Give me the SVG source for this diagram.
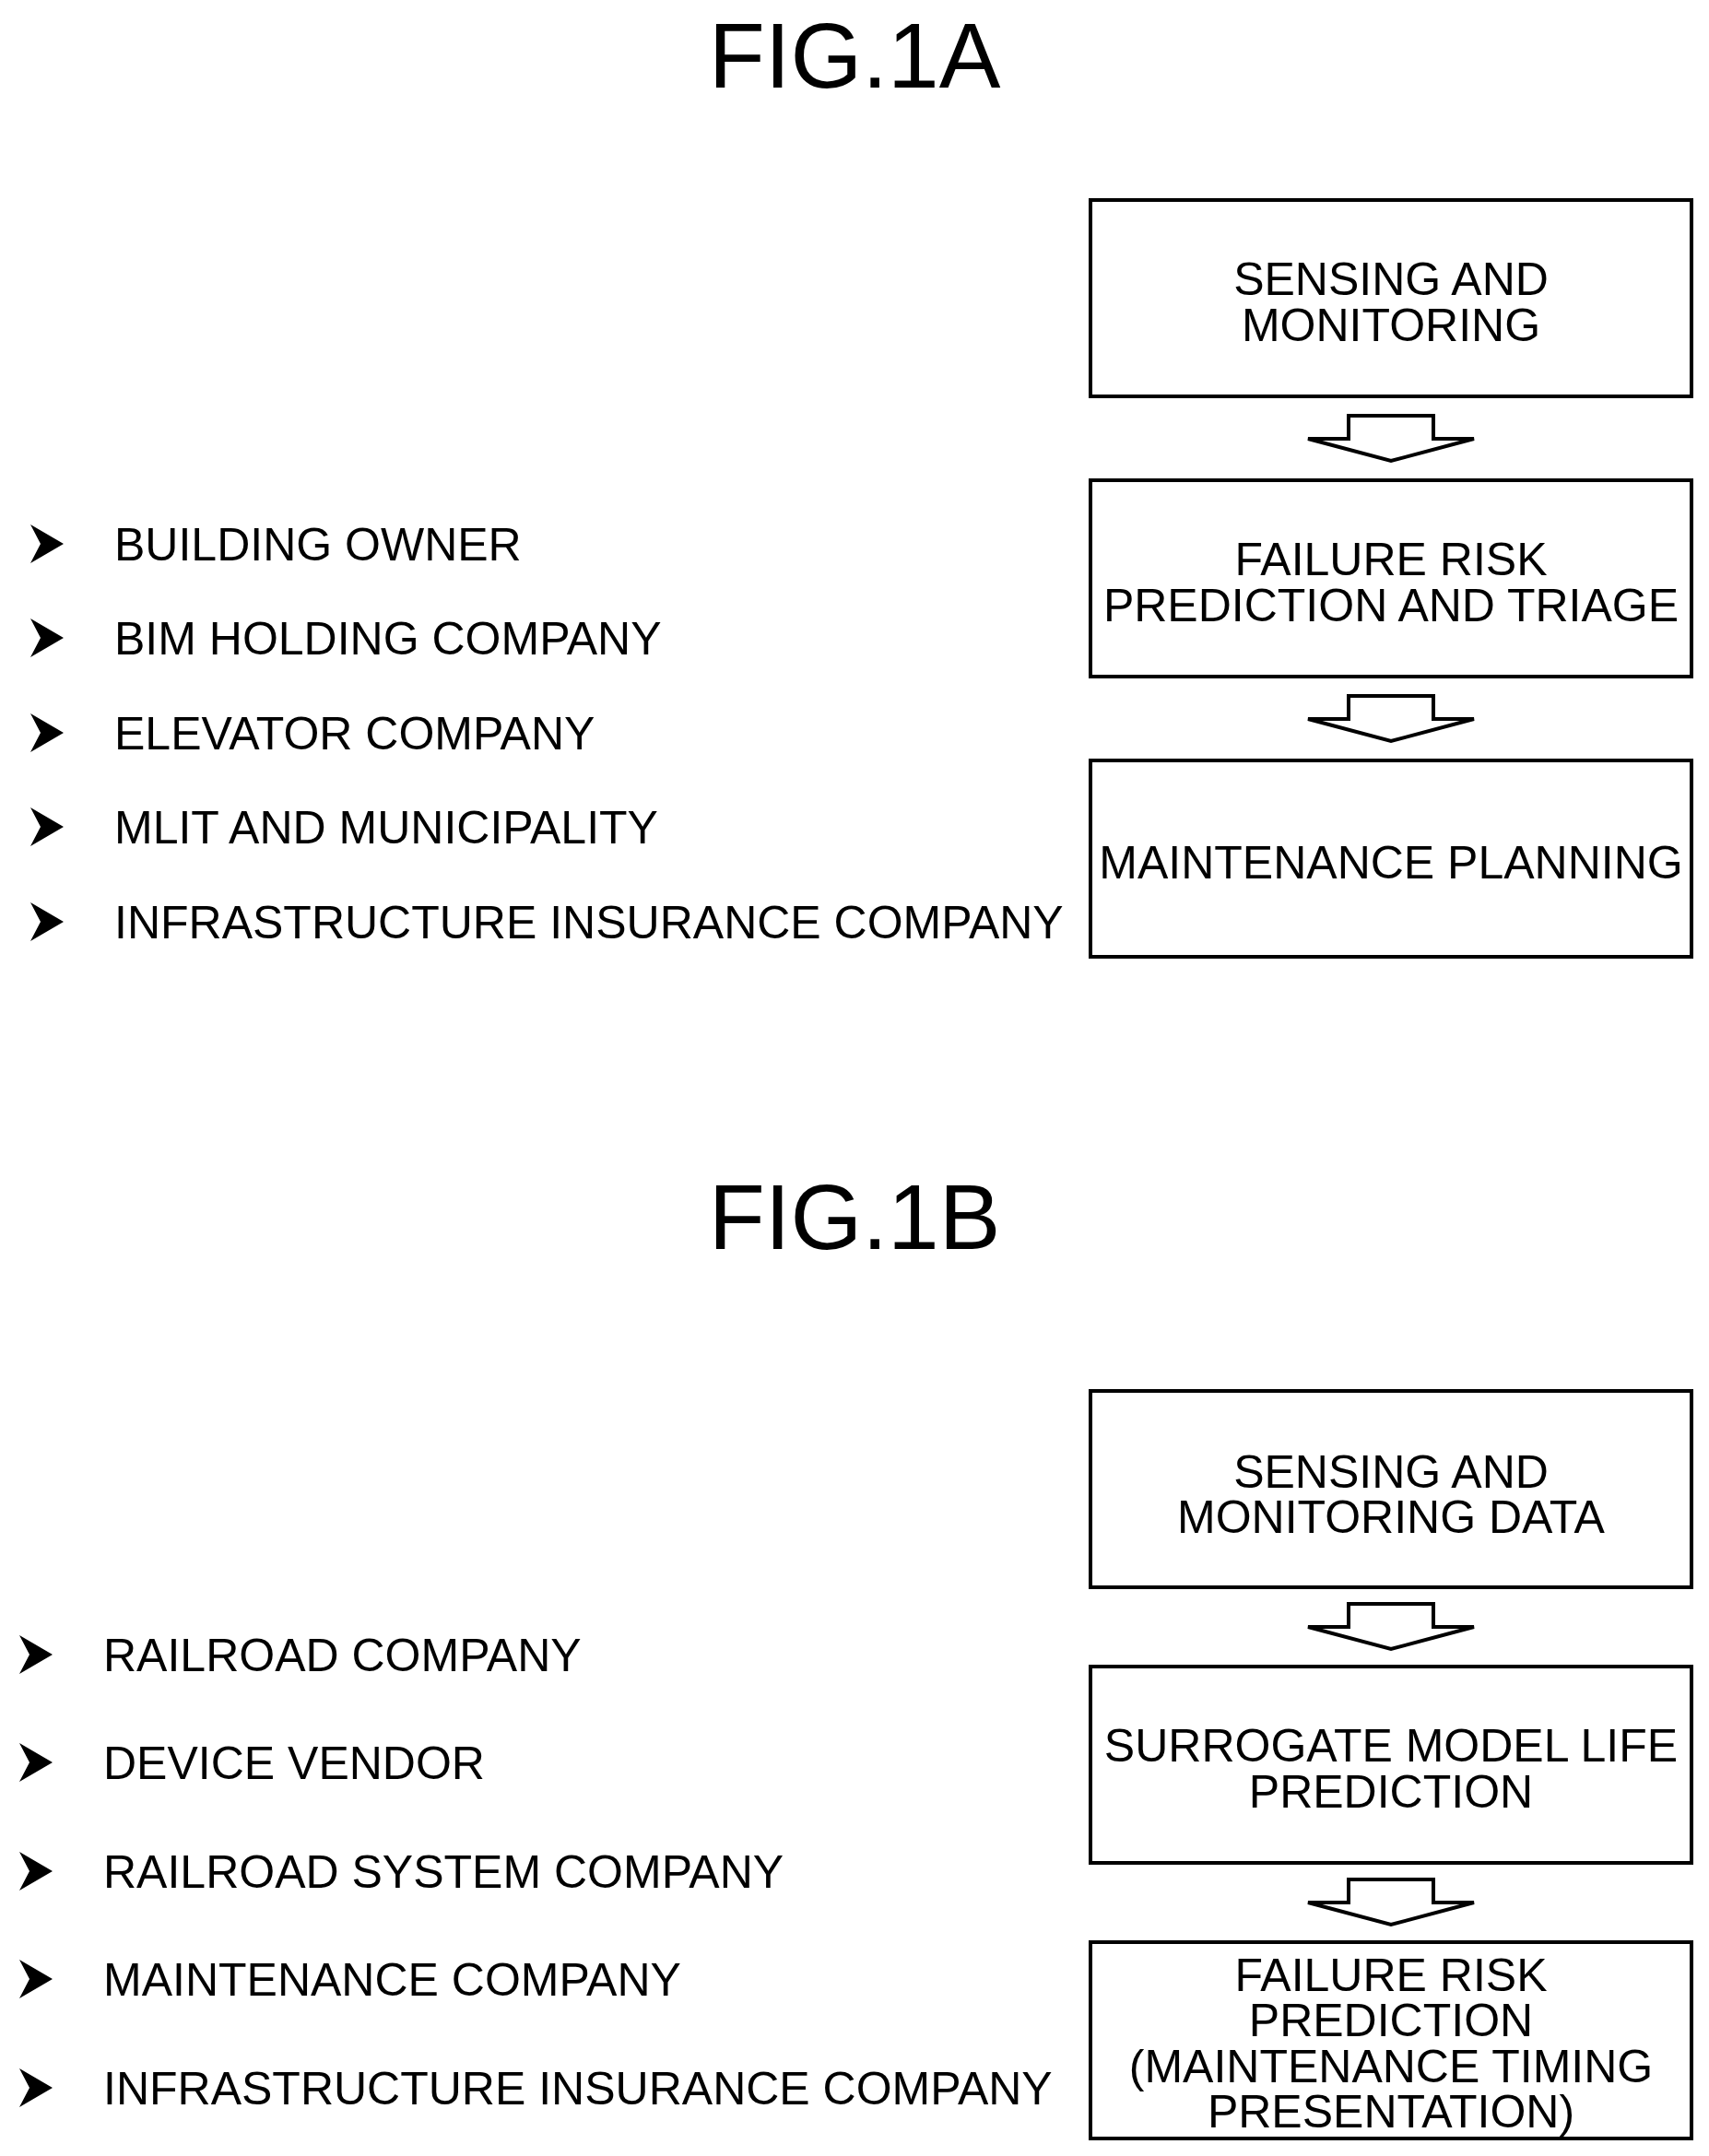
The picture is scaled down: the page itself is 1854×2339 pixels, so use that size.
<svg xmlns="http://www.w3.org/2000/svg" width="1854" height="2339" viewBox="0 0 1854 2339">
<style>
text{font-family:"Liberation Sans",Arial,sans-serif;fill:#000}
.t{font-size:100px;text-anchor:middle}
.b{font-size:50px;text-anchor:middle}
.l{font-size:50px}
.box{fill:#fff;stroke:#000;stroke-width:4}
.ar{fill:#fff;stroke:#000;stroke-width:4;stroke-linejoin:miter}
</style>
<defs>
<polygon id="chev" points="0,-21 36,0 0,21 11,0" fill="#000"/>
<polygon id="darr" class="ar" points="-46,0 46,0 46,25 90,25 0,49 -90,25 -46,25"/>
</defs>
<rect width="1854" height="2339" fill="#fff"/>
<text class="t" x="927" y="95">FIG.1A</text>
<text class="t" x="927" y="1355">FIG.1B</text>
<g id="list1a">
<use href="#chev" x="33" y="590"/><text class="l" x="124" y="608">BUILDING OWNER</text>
<use href="#chev" x="33" y="692"/><text class="l" x="124" y="710">BIM HOLDING COMPANY</text>
<use href="#chev" x="33" y="795"/><text class="l" x="124" y="813">ELEVATOR COMPANY</text>
<use href="#chev" x="33" y="897"/><text class="l" x="124" y="915">MLIT AND MUNICIPALITY</text>
<use href="#chev" x="33" y="1000"/><text class="l" x="124" y="1018">INFRASTRUCTURE INSURANCE COMPANY</text>
</g>
<g id="list1b">
<use href="#chev" x="21" y="1795"/><text class="l" x="112" y="1813">RAILROAD COMPANY</text>
<use href="#chev" x="21" y="1912"/><text class="l" x="112" y="1930">DEVICE VENDOR</text>
<use href="#chev" x="21" y="2030"/><text class="l" x="112" y="2048">RAILROAD SYSTEM COMPANY</text>
<use href="#chev" x="21" y="2147"/><text class="l" x="112" y="2165">MAINTENANCE COMPANY</text>
<use href="#chev" x="21" y="2265"/><text class="l" x="112" y="2283">INFRASTRUCTURE INSURANCE COMPANY</text>
</g>
<g id="a1"><rect class="box" x="1183" y="217" width="652" height="213"/><text class="b" x="1509" y="320">SENSING AND</text><text class="b" x="1509" y="370">MONITORING</text></g>
<g id="a2"><rect class="box" x="1183" y="521" width="652" height="213"/><text class="b" x="1509" y="624">FAILURE RISK</text><text class="b" x="1509" y="674">PREDICTION AND TRIAGE</text></g>
<g id="a3"><rect class="box" x="1183" y="825" width="652" height="213"/><text class="b" x="1509" y="953">MAINTENANCE PLANNING</text></g>
<g id="b1"><rect class="box" x="1183" y="1509" width="652" height="213"/><text class="b" x="1509" y="1614">SENSING AND</text><text class="b" x="1509" y="1663">MONITORING DATA</text></g>
<g id="b2"><rect class="box" x="1183" y="1808" width="652" height="213"/><text class="b" x="1509" y="1911">SURROGATE MODEL LIFE</text><text class="b" x="1509" y="1961">PREDICTION</text></g>
<g id="b3"><rect class="box" x="1183" y="2107" width="652" height="213"/><text class="b" x="1509" y="2160">FAILURE RISK</text><text class="b" x="1509" y="2209">PREDICTION</text><text class="b" x="1509" y="2259">(MAINTENANCE TIMING</text><text class="b" x="1509" y="2308">PRESENTATION)</text></g>
<g id="connectors">
<use href="#darr" x="1509" y="451"/>
<use href="#darr" x="1509" y="755"/>
<use href="#darr" x="1509" y="1740"/>
<use href="#darr" x="1509" y="2039"/>
</g>
</svg>
